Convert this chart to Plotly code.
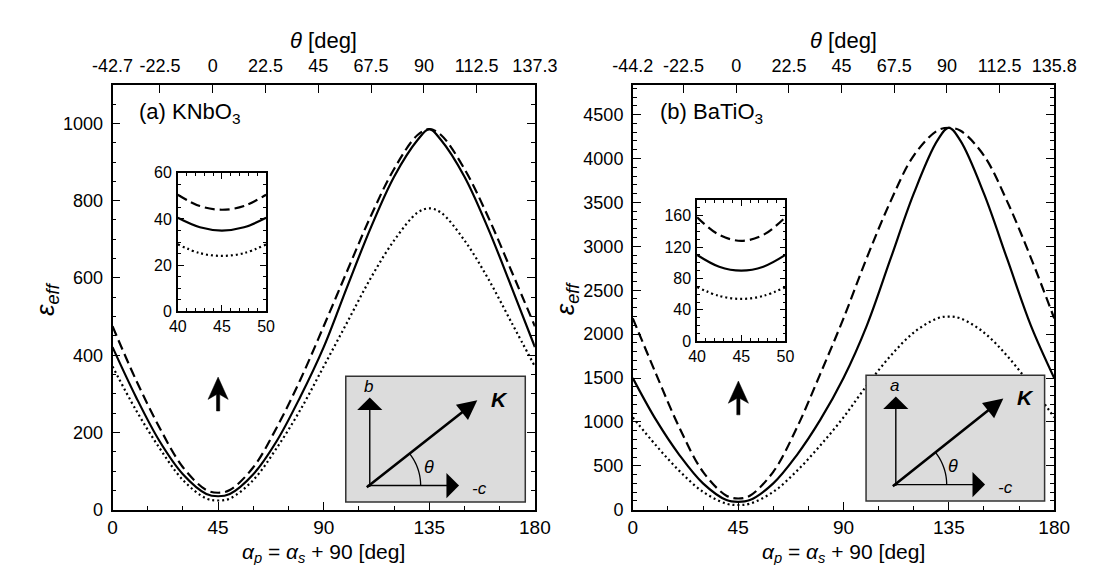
import math
import plotly.graph_objects as go

# ---------------- data ----------------
alpha = [0, 10, 20, 30, 40, 45, 50, 60, 70, 80, 90, 100, 110, 120, 130, 135, 140, 150, 160, 170, 180]

knbo3_dashed = [475, 336, 213, 110, 51, 44, 51, 110, 213, 336, 475, 618, 759, 882, 970, 985, 970, 882, 759, 618, 475]
knbo3_solid = [421, 292, 178, 92, 41, 35, 41, 92, 178, 292, 421, 577, 729, 862, 957, 985, 957, 862, 729, 577, 421]
knbo3_dotted = [371, 258, 160, 77, 29, 24, 29, 77, 160, 258, 371, 485, 599, 697, 769, 780, 769, 697, 599, 485, 371]

batio3_dashed = [2180, 1542, 930, 432, 160, 128, 160, 432, 930, 1542, 2180, 2872, 3506, 4033, 4316, 4350, 4316, 4033, 3506, 2872, 2180]
batio3_solid = [1500, 1020, 620, 300, 110, 90, 110, 300, 620, 1020, 1500, 2100, 2850, 3600, 4200, 4350, 4200, 3600, 2850, 2100, 1500]
batio3_dotted = [1052, 730, 440, 204, 69, 54, 69, 204, 440, 730, 1052, 1417, 1749, 2018, 2179, 2200, 2179, 2018, 1749, 1417, 1052]

alpha_zoom = [40, 42.5, 45, 47.5, 50]
knbo3_zoom_dashed = [50.5, 45.6, 44, 45.6, 50.5]
knbo3_zoom_solid = [40.5, 36.4, 35, 36.4, 40.5]
knbo3_zoom_dotted = [29, 25.2, 24, 25.2, 29]
batio3_zoom_dashed = [158, 135.5, 128, 135.5, 158]
batio3_zoom_solid = [110, 95, 90, 95, 110]
batio3_zoom_dotted = [69, 57.8, 54, 57.8, 69]

theta_ticks_a = ["-42.7", "-22.5", "0", "22.5", "45", "67.5", "90", "112.5", "137.3"]
theta_ticks_b = ["-44.2", "-22.5", "0", "22.5", "45", "67.5", "90", "112.5", "135.8"]
theta_offset_a = 42.7
theta_offset_b = 44.2

# ---------------- layout helpers ----------------
W, H = 1098, 565
FONT = "Liberation Sans, Arial, sans-serif"
NARROW = "Liberation Sans Narrow, Liberation Sans, Arial, sans-serif"


def px(x):
    return x / W


def py(y):
    return 1 - y / H


L = dict(x0=87, x1=527)
R = dict(x0=629, x1=1068)
TOP, BOT = 71, 510

fig = go.Figure()

styles = ["10px,5px", "solid", "2px,3px"]


def add_series(xs, ys_list, xa, ya):
    for ys, d in zip(ys_list, styles):
        fig.add_trace(go.Scatter(
            x=xs, y=ys, xaxis=xa, yaxis=ya, mode="lines",
            line=dict(color="black", width=2.2, dash=d, shape="spline", smoothing=1.0),
            showlegend=False, hoverinfo="skip"))


add_series(alpha, [knbo3_dashed, knbo3_solid, knbo3_dotted], "x", "y")
add_series(alpha, [batio3_dashed, batio3_solid, batio3_dotted], "x2", "y2")
add_series(alpha_zoom, [knbo3_zoom_dashed, knbo3_zoom_solid, knbo3_zoom_dotted], "x5", "y5")
add_series(alpha_zoom, [batio3_zoom_dashed, batio3_zoom_solid, batio3_zoom_dotted], "x6", "y6")

# invisible traces for the top theta axes
fig.add_trace(go.Scatter(x=[0, 180], y=[0, 0], xaxis="x3", yaxis="y", mode="lines",
                         line=dict(width=0), showlegend=False, hoverinfo="skip"))
fig.add_trace(go.Scatter(x=[0, 180], y=[0, 0], xaxis="x4", yaxis="y2", mode="lines",
                         line=dict(width=0), showlegend=False, hoverinfo="skip"))

common_x = dict(showline=True, linecolor="black", linewidth=1.6, ticks="inside", tickcolor="black",
                tickwidth=1.3, showgrid=False, zeroline=False)

bottom_x = dict(common_x, range=[0, 180], tickvals=[0, 45, 90, 135, 180], ticklen=8, mirror=True,
                minor=dict(dtick=15, tick0=0, ticks="inside", ticklen=4, tickcolor="black", tickwidth=1.3),
                tickfont=dict(family=NARROW, size=19, color="black"), ticklabelstandoff=0)


def top_x(offset, labels, overlay, anchor):
    vals = [min(max(float(t) + offset, 0), 180) for t in labels]
    return dict(common_x, range=[0, 180], overlaying=overlay, anchor=anchor, side="top",
                tickvals=vals, ticktext=labels, ticklen=8,
                tickfont=dict(family=FONT, size=18, color="black"), ticklabelstandoff=4)


common_y = dict(showline=True, linecolor="black", linewidth=1.6, ticks="inside", tickcolor="black",
                tickwidth=1.3, showgrid=False, zeroline=False, mirror="ticks",
                tickfont=dict(family=FONT, size=18, color="black"), ticklen=8, ticklabelstandoff=4)

inset_x = dict(common_x, range=[40, 50], mirror="ticks", tickvals=[40, 45, 50], ticklen=6,
               minor=dict(dtick=1, ticks="inside", ticklen=3, tickcolor="black", tickwidth=1.1),
               tickfont=dict(family=FONT, size=16, color="black"), ticklabelstandoff=0)

fig.update_layout(
    width=W, height=H, margin=dict(l=0, r=0, t=0, b=0),
    paper_bgcolor="white", plot_bgcolor="rgba(0,0,0,0)",
    xaxis=dict(bottom_x, domain=[px(L["x0"]), px(L["x1"])], anchor="y"),
    yaxis=dict(common_y, domain=[py(BOT), py(TOP)], range=[0, 1100], dtick=200, anchor="x",
               minor=dict(dtick=50, ticks="inside", ticklen=4, tickcolor="black", tickwidth=1.3)),
    xaxis2=dict(bottom_x, domain=[px(R["x0"]), px(R["x1"])], anchor="y2"),
    yaxis2=dict(common_y, domain=[py(BOT), py(TOP)], range=[0, 4840], dtick=500, anchor="x2",
                minor=dict(dtick=100, ticks="inside", ticklen=4, tickcolor="black", tickwidth=1.3)),
    xaxis3=top_x(theta_offset_a, theta_ticks_a, "x", "y"),
    xaxis4=top_x(theta_offset_b, theta_ticks_b, "x2", "y2"),
    xaxis5=dict(inset_x, domain=[px(155), px(247)], anchor="y5"),
    yaxis5=dict(common_y, domain=[py(305), py(162)], range=[0, 60], dtick=20, anchor="x5", ticklen=6,
                minor=dict(dtick=5, ticks="inside", ticklen=3, tickcolor="black", tickwidth=1.1),
                tickfont=dict(family=FONT, size=16, color="black"), ticklabelstandoff=1),
    xaxis6=dict(inset_x, domain=[px(696), px(788)], anchor="y6"),
    yaxis6=dict(common_y, domain=[py(336), py(190)], range=[0, 180], dtick=40, anchor="x6", ticklen=6,
                minor=dict(dtick=10, ticks="inside", ticklen=3, tickcolor="black", tickwidth=1.1),
                tickfont=dict(family=FONT, size=16, color="black"), ticklabelstandoff=1),
)

shapes = []
annots = []


def text(x, y, s, size, italic=False, bold=False, angle=0, family=FONT, xanchor="center"):
    if italic:
        s = "<i>" + s + "</i>"
    if bold:
        s = "<b>" + s + "</b>"
    annots.append(dict(x=px(x), y=py(y), xref="paper", yref="paper", text=s, showarrow=False,
                       textangle=angle, xanchor=xanchor, yanchor="middle",
                       font=dict(family=family, size=size, color="black")))


def arrow(x0, y0, x1, y1, width, size, head=2):
    annots.append(dict(x=px(x1), y=py(y1), ax=x0 - x1, ay=y0 - y1, xref="paper", yref="paper",
                       axref="pixel", ayref="pixel", text="", showarrow=True, arrowhead=head,
                       arrowsize=size, arrowwidth=width, arrowcolor="black", standoff=0))


def poly(points):
    path = "M " + " L ".join(f"{px(a):.5f},{py(b):.5f}" for a, b in points) + " Z"
    shapes.append(dict(type="path", xref="paper", yref="paper", path=path,
                       fillcolor="black", line=dict(color="black", width=0.5), layer="above"))


# axis titles and panel labels
for (p, lab) in [(L, "(a) KNbO<sub>3</sub>"), (R, "(b) BaTiO<sub>3</sub>")]:
    cx = (p["x0"] + p["x1"]) / 2
    text(cx, 25, "<i>θ</i> [deg]", 22)
    text(cx, 555, "<i>α</i><sub><i>p</i></sub> = <i>α</i><sub><i>s</i></sub> + 90 [deg]", 21, family=NARROW)
    text(p["x0"] - 69, 292, "<i>ε</i><sub><i>eff</i></sub>", 26, angle=-90)
    text(p["x0"] + 26, 100, lab, 22, xanchor="left")

# orientation diagrams
diagrams = [
    dict(box=(330, 372, 517, 502), o=(355, 485), up=(355, 394), right=(448, 485), k=(467, 397),
         ulab="b", ulab_pos=(354, 383), rlab_pos=(459, 488), klab_pos=(479, 396), th_pos=(417, 466)),
    dict(box=(872, 371, 1058, 501), o=(903, 484), up=(903, 393), right=(996, 484), k=(1015, 395),
         ulab="a", ulab_pos=(902, 382), rlab_pos=(1007, 487), klab_pos=(1027, 394), th_pos=(963, 465)),
]
for d in diagrams:
    bx0, by0, bx1, by1 = d["box"]
    shapes.append(dict(type="rect", xref="paper", yref="paper", x0=px(bx0), x1=px(bx1), y0=py(by1), y1=py(by0),
                       fillcolor="#dcdcdc", line=dict(color="#333333", width=1.5), layer="above"))
    ox, oy = d["o"]
    arrow(ox, oy, d["up"][0], d["up"][1], 1.4, 3.0, head=1)
    arrow(ox, oy, d["right"][0], d["right"][1], 1.4, 3.0, head=1)
    arrow(ox, oy, d["k"][0], d["k"][1], 2.6, 1.5)
    kx, ky = d["k"]
    ang = math.atan2(oy - ky, kx - ox)
    r = 53
    n = 16
    pts = [(ox + r * math.cos(ang * i / n), oy - r * math.sin(ang * i / n)) for i in range(n + 1)]
    path = "M " + " L ".join(f"{px(a):.5f},{py(b):.5f}" for a, b in pts)
    shapes.append(dict(type="path", xref="paper", yref="paper", path=path,
                       line=dict(color="black", width=1.3), layer="above"))
    text(d["ulab_pos"][0], d["ulab_pos"][1], d["ulab"], 17, italic=True)
    text(d["rlab_pos"][0], d["rlab_pos"][1], "-c", 17, italic=True, xanchor="left")
    text(d["klab_pos"][0], d["klab_pos"][1], "K", 21, italic=True, bold=True, xanchor="left")
    text(d["th_pos"][0], d["th_pos"][1], "θ", 18, italic=True)

# big upward arrows (filled notched head + shaft)
for (ax_, tip, tail) in [(197, 373, 408), (739, 377, 412)]:
    poly([(ax_, tip), (ax_ + 10.5, tip + 23), (ax_ + 1.7, tip + 18), (ax_ + 1.7, tail),
          (ax_ - 1.7, tail), (ax_ - 1.7, tip + 18), (ax_ - 10.5, tip + 23)])

fig.update_layout(shapes=shapes, annotations=annots)
fig.write_html("out.html")
